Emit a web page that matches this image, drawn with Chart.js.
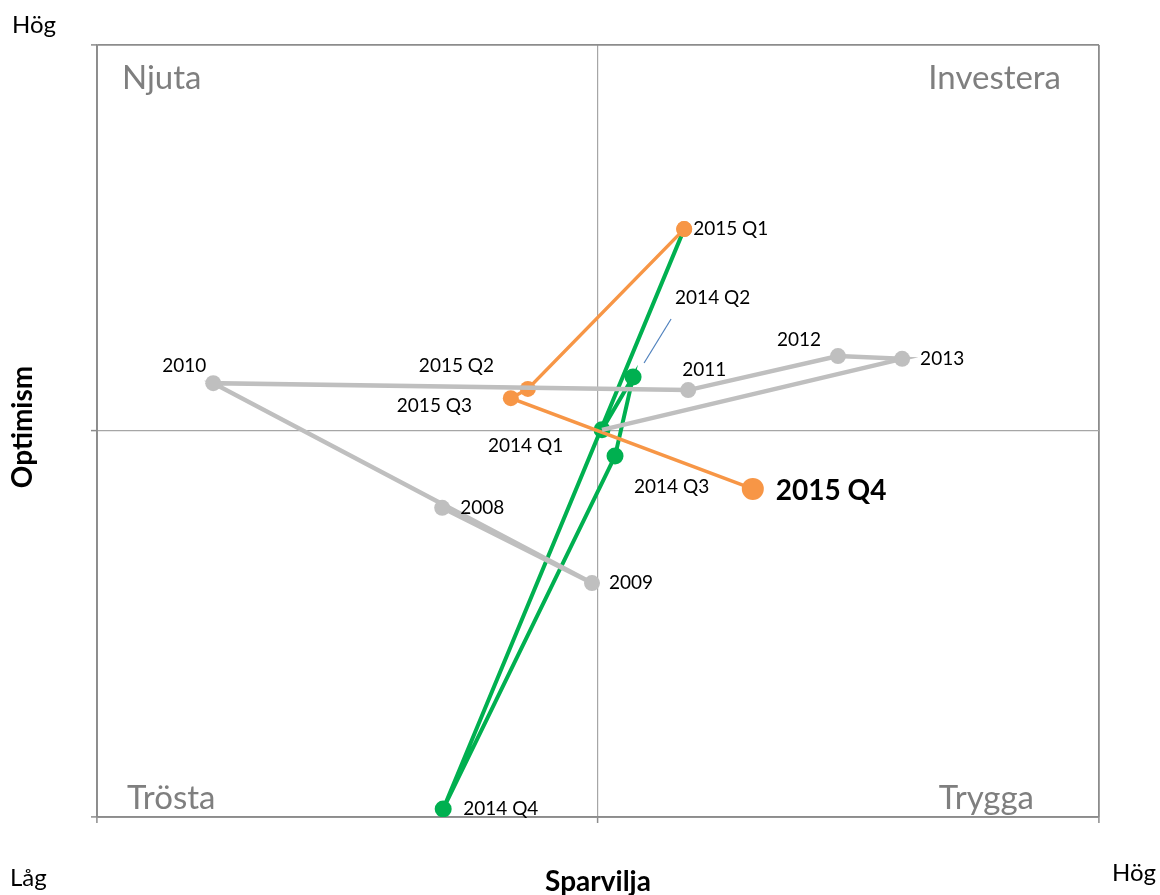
<!DOCTYPE html>
<html>
<head>
<meta charset="utf-8">
<script src="https://cdn.jsdelivr.net/npm/chart.js@4"></script>
<style>
    html, body { margin: 0; padding: 0; background: #fff; }
    canvas { display: block; }
</style>
</head>
<body>
<canvas id="quadChart" width="1160" height="895"></canvas>
<script>
// Sparvilja (x) vs Optimism (y), skala -1 .. 1
const grayLabels = ["2008", "2009", "2010", "2011", "2012", "2013", ""];
const grayX = [-0.311, -0.012, -0.768, 0.180, 0.479, 0.607, 0.008];
const grayY = [-0.199, -0.394, 0.124, 0.106, 0.194, 0.187, 0.003];

const greenLabels = ["2014 Q1", "2014 Q2", "2014 Q3", "2014 Q4", ""];
const greenX = [0.008, 0.070, 0.034, -0.309, 0.172];
const greenY = [0.003, 0.140, -0.065, -0.979, 0.523];

const orangeLabels = ["2015 Q1", "2015 Q2", "2015 Q3", "2015 Q4"];
const orangeX = [0.172, -0.140, -0.174, 0.309];
const orangeY = [0.523, 0.109, 0.085, -0.150];

const quadrants = ["Njuta", "Investera", "Trösta", "Trygga"];

// label placement relative to the point, px
const labelOffsets = {
    "2008": [18, 0], "2009": [17, 0], "2010": [-51, -17], "2011": [-6, -20],
    "2012": [-61, -16], "2013": [18, 0],
    "2014 Q1": [-114, 16], "2014 Q2": [42, -79], "2014 Q3": [19, 31], "2014 Q4": [20, 0],
    "2015 Q1": [9, 0], "2015 Q2": [-109, -23], "2015 Q3": [-114, 8], "2015 Q4": [23, 2],
};

const FONT = "Lato, 'Open Sans', sans-serif";
const GRAY = "#bfbfbf", GREEN = "#00b050", ORANGE = "#f79646";

function pts(xs, ys) {
    return xs.map((x, i) => ({ x: x, y: ys[i] }));
}

const labelPlugin = {
    id: "labels",
    afterDatasetsDraw(chart) {
        const c = chart.ctx;
        c.save();
        c.textBaseline = "middle";
        c.textAlign = "left";
        chart.data.datasets.forEach((ds, di) => {
            const meta = chart.getDatasetMeta(di);
            ds.pointLabels.forEach((txt, i) => {
                if (!txt) return;
                const p = meta.data[i];
                const off = labelOffsets[txt];
                const big = txt === "2015 Q4";
                c.font = (big ? "bold 28px " : "19px ") + FONT;
                c.fillStyle = "#000";
                c.fillText(txt, p.x + off[0], p.y + off[1]);
                if (txt === "2014 Q2") {
                    c.strokeStyle = "#4f81bd";
                    c.lineWidth = 1.2;
                    c.beginPath();
                    c.moveTo(p.x + 38, p.y - 58);
                    c.lineTo(p.x + 11, p.y - 14);
                    c.stroke();
                }
            });
        });
        c.restore();
    },
    afterDraw(chart) {
        const c = chart.ctx;
        const a = chart.chartArea;
        c.save();
        c.textBaseline = "middle";
        c.fillStyle = "#7f7f7f";
        c.font = "33px " + FONT;
        c.textAlign = "left";
        c.fillText(quadrants[0], a.left + 25, a.top + 33);
        c.fillText(quadrants[2], a.left + 30, a.bottom - 19);
        c.textAlign = "right";
        c.fillText(quadrants[1], a.right - 38, a.top + 33);
        c.fillText(quadrants[3], a.right - 65, a.bottom - 19);

        c.fillStyle = "#000";
        c.font = "24px " + FONT;
        c.textAlign = "left";
        c.fillText("Hög", 12, 25);
        c.fillText("Låg", 10, 878);
        c.fillText("Hög", 1112, 873);

        c.font = "bold 28px " + FONT;
        c.textAlign = "center";
        c.fillText("Sparvilja", (a.left + a.right) / 2, 882);
        c.translate(23, 427);
        c.rotate(-Math.PI / 2);
        c.fillText("Optimism", 0, 0);
        c.restore();
    },
};

const axisGrid = {
    color: (ctx) => (ctx.tick && ctx.tick.value === 0 ? "#a6a6a6" : "#8c8c8c"),
    lineWidth: (ctx) => (ctx.tick && ctx.tick.value === 0 ? 1.2 : 1.8),
    tickLength: 6,
    tickColor: "#8c8c8c",
    tickWidth: 1.5,
};

new Chart(document.getElementById("quadChart").getContext("2d"), {
    type: "scatter",
    data: {
        datasets: [
            {
                data: pts(grayX, grayY),
                pointLabels: grayLabels,
                showLine: true,
                borderColor: GRAY,
                borderWidth: 4.5,
                backgroundColor: GRAY,
                pointBackgroundColor: GRAY,
                pointBorderWidth: 0,
                pointRadius: [8, 8, 8, 8, 8, 8, 0],
            },
            {
                data: pts(orangeX, orangeY),
                pointLabels: orangeLabels,
                showLine: true,
                borderColor: ORANGE,
                borderWidth: 3.5,
                backgroundColor: ORANGE,
                pointBackgroundColor: ORANGE,
                pointBorderWidth: 0,
                pointRadius: [8, 8, 8, 11],
            },
            {
                data: pts(greenX, greenY),
                pointLabels: greenLabels,
                showLine: true,
                borderColor: GREEN,
                borderWidth: 4,
                backgroundColor: GREEN,
                pointBackgroundColor: [GREEN, GREEN, GREEN, GREEN, ORANGE],
                pointBorderWidth: 0,
                pointRadius: [8.5, 8.5, 8.5, 8.5, 8],
            },
        ],
    },
    options: {
        responsive: false,
        animation: false,
        events: [],
        layout: { padding: { left: 91, right: 61, top: 45, bottom: 72 } },
        plugins: { legend: { display: false }, tooltip: { enabled: false } },
        scales: {
            x: {
                type: "linear",
                min: -1,
                max: 1,
                ticks: { stepSize: 1, display: false },
                grid: axisGrid,
                border: { color: "#8c8c8c", width: 1.8 },
            },
            y: {
                type: "linear",
                min: -1,
                max: 1,
                ticks: { stepSize: 1, display: false },
                grid: axisGrid,
                border: { color: "#8c8c8c", width: 1.8 },
            },
        },
    },
    plugins: [labelPlugin],
});
</script>
</body>
</html>
